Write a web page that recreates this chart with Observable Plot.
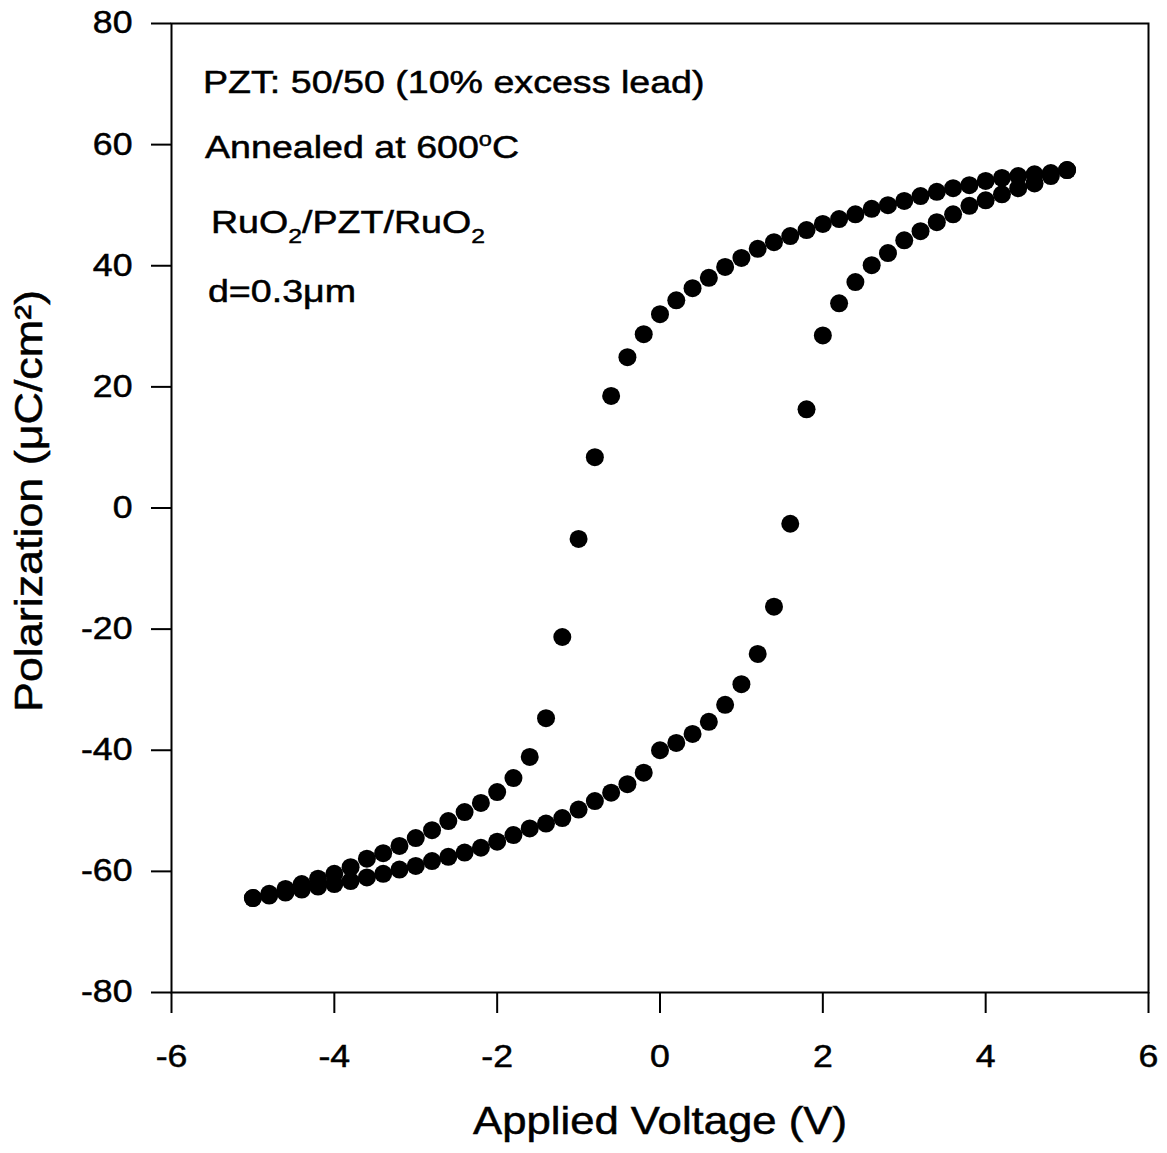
<!DOCTYPE html>
<html>
<head>
<meta charset="utf-8">
<script src="https://cdn.jsdelivr.net/npm/d3@7"></script>
<script src="https://cdn.jsdelivr.net/npm/@observablehq/plot@0.6"></script>
<style>
  html, body { margin: 0; padding: 0; background: #fff; }
  #chart svg { display: block; }
</style>
</head>
<body>
<div id="chart"></div>
<script>
// Applied voltage steps (V)
const voltage = [-5.0, -4.8, -4.6, -4.4, -4.2, -4.0, -3.8, -3.6, -3.4, -3.2,
                 -3.0, -2.8, -2.6, -2.4, -2.2, -2.0, -1.8, -1.6, -1.4, -1.2,
                 -1.0, -0.8, -0.6, -0.4, -0.2, 0.0, 0.2, 0.4, 0.6, 0.8,
                 1.0, 1.2, 1.4, 1.6, 1.8, 2.0, 2.2, 2.4, 2.6, 2.8,
                 3.0, 3.2, 3.4, 3.6, 3.8, 4.0, 4.2, 4.4, 4.6, 4.8, 5.0];

// Polarization (µC/cm²), descending sweep (upper branch)
const upperBranch = [-64.4, -63.7, -62.9, -62.1, -61.2, -60.4, -59.3, -57.9, -57.0, -55.8,
                     -54.5, -53.2, -51.7, -50.2, -48.7, -46.9, -44.6, -41.1, -34.7, -21.3,
                     -5.1, 8.4, 18.5, 24.9, 28.7, 32.0, 34.3, 36.3, 38.0, 39.8,
                     41.3, 42.8, 43.9, 44.9, 45.9, 46.9, 47.7, 48.5, 49.4, 50.0,
                     50.7, 51.5, 52.2, 52.8, 53.3, 54.0, 54.5, 54.8, 55.1, 55.3, 55.8];

// Polarization (µC/cm²), ascending sweep (lower branch)
const lowerBranch = [-64.4, -64.0, -63.5, -63.0, -62.5, -62.1, -61.6, -61.0, -60.4, -59.7,
                     -59.1, -58.3, -57.6, -56.9, -56.1, -55.1, -54.0, -52.9, -52.1, -51.2,
                     -49.8, -48.4, -47.0, -45.6, -43.7, -40.0, -38.8, -37.3, -35.3, -32.5,
                     -29.1, -24.1, -16.3, -2.6, 16.3, 28.5, 33.8, 37.3, 40.1, 42.1,
                     44.2, 45.7, 47.2, 48.5, 49.9, 50.8, 51.8, 52.8, 53.6, 54.8, 55.8];

const xTicks = [-6, -4, -2, 0, 2, 4, 6];
const yTicks = [-80, -60, -40, -20, 0, 20, 40, 60, 80];

const xLabel = "Applied Voltage (V)";
const yLabel = "Polarization (μC/cm²)";

const FONT = "'Liberation Sans', Arial, Helvetica, sans-serif";
const SX = 1.15;      // horizontal widening of axis lettering
const SX_NOTE = 1.175; // horizontal widening of annotation lettering

const points = [];
voltage.forEach((v, i) => {
  points.push({v, p: upperBranch[i], branch: "upper"});
  points.push({v, p: lowerBranch[i], branch: "lower"});
});

const chart = Plot.plot({
  width: 1167,
  height: 1153,
  marginLeft: 171,
  marginRight: 19,
  marginTop: 23,
  marginBottom: 161,
  style: {fontFamily: FONT, background: "white", color: "black"},
  x: {domain: [-6, 6]},
  y: {domain: [-80, 80]},
  marks: [
    Plot.axisX(xTicks, {tickSize: 21, tickPadding: 31, fontSize: 31, strokeWidth: 2, label: null, tickFormat: d => String(d)}),
    Plot.axisY(yTicks, {tickSize: 20, tickPadding: 19, fontSize: 31, strokeWidth: 2, label: null, tickFormat: d => String(d)}),
    Plot.frame({stroke: "black", strokeWidth: 2}),
    Plot.dot(points, {x: "v", y: "p", r: 9, fill: "black", stroke: "none"}),
    Plot.text([xLabel], {frameAnchor: "bottom", dy: 141, fontSize: 38, lineAnchor: "bottom", textAnchor: "middle"}),
    Plot.text([yLabel], {frameAnchor: "left", rotate: -90, dx: -130, dy: -7, fontSize: 39, lineAnchor: "bottom", textAnchor: "middle"})
  ]
});

// widen the Plot-generated lettering around each anchor; slight stroke for the heavier print look
d3.select(chart).selectAll("text").each(function () {
  const tr = this.getAttribute("transform");
  if (tr) this.setAttribute("transform", tr + ` scale(${SX},1)`);
  this.setAttribute("stroke", "black");
  this.setAttribute("stroke-width", "0.5");
});

// annotation block inside the frame
const sx = chart.scale("x"), sy = chart.scale("y");
const g = d3.select(chart).append("g")
  .attr("font-family", FONT)
  .attr("font-size", 32)
  .attr("text-anchor", "start")
  .attr("fill", "black")
  .attr("stroke", "black")
  .attr("stroke-width", 0.5);

function addLine(v, p, build) {
  const t = g.append("text")
    .attr("text-anchor", "start")
    .attr("transform", `translate(${sx.apply(v)},${sy.apply(p)}) scale(${SX_NOTE},1)`);
  build(t);
}

addLine(-5.607, 68.4, t => t.text("PZT: 50/50 (10% excess lead)"));
addLine(-5.582, 57.7, t => {
  t.append("tspan").text("Annealed at 600");
  t.append("tspan").attr("font-size", 20).attr("dy", -12).text("o");
  t.append("tspan").attr("dy", 12).text("C");
});
addLine(-5.509, 45.3, t => {
  t.append("tspan").text("RuO");
  t.append("tspan").attr("font-size", 21).attr("dy", 10).text("2");
  t.append("tspan").attr("dy", -10).text("/PZT/RuO");
  t.append("tspan").attr("font-size", 21).attr("dy", 10).text("2");
});
addLine(-5.546, 33.9, t => t.text("d=0.3μm"));

document.getElementById("chart").appendChild(chart);
</script>
</body>
</html>
